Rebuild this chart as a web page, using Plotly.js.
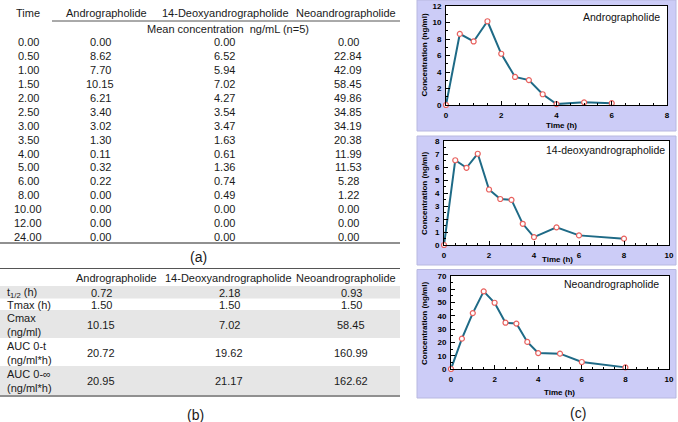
<!DOCTYPE html>
<html><head><meta charset="utf-8">
<script src="https://cdn.plot.ly/plotly-3.0.1.min.js"></script>
<style>html,body{margin:0;padding:0;background:#fff}#chart{width:678px;height:422px}</style>
</head><body><div id="chart"></div>
<script>
// ---- data ----
const times = [0, 0.5, 1, 1.5, 2, 2.5, 3, 3.5, 4, 5, 6, 8, 10, 12, 24];
const andro = [0, 8.62, 7.70, 10.15, 6.21, 3.40, 3.02, 1.30, 0.11, 0.32, 0.22, 0, 0, 0, 0];
const deoxy = [0, 6.52, 5.94, 7.02, 4.27, 3.54, 3.47, 1.63, 0.61, 1.36, 0.74, 0.49, 0, 0, 0];
const neo = [0, 22.84, 42.09, 58.45, 49.86, 34.85, 34.19, 20.38, 11.99, 11.53, 5.28, 1.22, 0, 0, 0];
const tableAHeaders = ['Time', 'Andrographolide', '14-Deoxyandrographolide', 'Neoandrographolide'];
const tableASubheader = 'Mean concentration&nbsp;&nbsp;ng/mL (n=5)';
const tableBHeaders = ['Andrographolide', '14-Deoxyandrographolide', 'Neoandrographolide'];
const pkLabels = ['t<sub>1/2</sub> (h)', 'Tmax (h)', 'Cmax<br>(ng/ml)', 'AUC 0-t<br>(ng/ml*h)', 'AUC 0-∞<br>(ng/ml*h)'];
const pkAndro = [0.72, 1.50, 10.15, 20.72, 20.95];
const pkDeoxy = [2.18, 1.50, 7.02, 19.62, 21.17];
const pkNeo = [0.93, 1.50, 58.45, 160.99, 162.62];
const chartNames = ['Andrographolide', '14-deoxyandrographolide', 'Neoandrographolide'];
const chartLastTime = [6, 8, 8];
const chartXMax = [8, 10, 10];
const chartYMax = [12, 8, 70];
const chartYStep = [2, 1, 10];
const panelLabels = ['(a)', '(b)', '(c)'];
const axisTitleX = 'Time (h)';
const axisTitleY = 'Concentration (ng/ml)';

// ---- layout geometry (pixels) ----
const W = 678, H = 422;
const X = p => p / W, Y = p => 1 - p / H;
const FONT = 'Arial, "Liberation Sans", sans-serif';
const txtColor = '#1a1a1a';

const annotations = [];
const shapes = [];
function ann(text, x, y, o) {
  o = o || {};
  annotations.push(Object.assign({
    text: text, x: X(x), y: Y(y), xref: 'paper', yref: 'paper', showarrow: false,
    xanchor: 'center', yanchor: 'middle',
    font: {family: FONT, size: 11, color: txtColor}
  }, o));
}
function hline(x0, x1, y, color, width) {
  shapes.push({type: 'line', xref: 'paper', yref: 'paper', x0: X(x0), x1: X(x1), y0: Y(y), y1: Y(y),
    line: {color: color, width: width}, layer: 'above'});
}
function rect(x0, y0, x1, y1, fill, lineColor) {
  shapes.push({type: 'rect', xref: 'paper', yref: 'paper', x0: X(x0), x1: X(x1), y0: Y(y1), y1: Y(y0),
    fillcolor: fill, line: {color: lineColor || fill, width: lineColor ? 1 : 0}, layer: 'below'});
}

// ---- table (a) ----
const colAHead = [28, 106, 225, 346];
const colAVal = [28, 100, 224, 348];
tableAHeaders.forEach((h, i) => ann(h, colAHead[i], 13));
hline(52, 400, 21, '#555', 1);
ann(tableASubheader, 228, 28.5);
const seriesA = [times, andro, deoxy, neo];
times.forEach((t, r) => {
  const yy = 42.3 + 13.9 * r;
  seriesA.forEach((s, c) => ann(s[r].toFixed(2), colAVal[c], yy));
});
hline(0, 400, 243, '#909090', 2);
ann(panelLabels[0], 198, 257, {font: {family: FONT, size: 14, color: txtColor}});

// ---- table (b) ----
hline(0, 400, 268.5, '#555', 1);
const colBHead = [116, 228, 346];
const colBVal = [101, 229, 351];
tableBHeaders.forEach((h, i) => ann(h, colBHead[i], 277.5));
const rowB = [[286, 298.5], [298.5, 310], [310, 338], [338, 366], [366, 395]];
const shaded = [true, false, true, false, true];
rowB.forEach((r, i) => { if (shaded[i]) rect(0, r[0], 400, r[1], '#e6e6e6'); });
const pkSeries = [pkAndro, pkDeoxy, pkNeo];
pkLabels.forEach((lab, r) => {
  const yy = (rowB[r][0] + rowB[r][1]) / 2;
  ann(lab, 5, yy + 0.5, {xanchor: 'left', align: 'left'});
  pkSeries.forEach((s, c) => ann(s[r].toFixed(2), colBVal[c], yy + 0.5));
});
hline(0, 400, 396, '#909090', 2);
ann(panelLabels[1], 195, 415, {font: {family: FONT, size: 14, color: txtColor}});

// ---- charts (c) ----
const panels = [[0, 131], [136, 265], [269.5, 398]];
const plotX = [[446, 667], [444, 669], [451, 669]];
const plotY = [[6, 105], [141, 245], [276, 369]];
const yTitleY = [55.5, 194, 324];
const xTitle = [[561, 125], [557, 259], [559, 392]];
const nameRight = [662, 667, 661];
const nameY = [17, 150, 284];
const chartSeries = [andro, deoxy, neo];

panels.forEach(p => rect(417, p[0], 676, p[1], '#ccccf7', '#b8b8e0'));

const traces = [];
const layout = {
  width: W, height: H, margin: {l: 0, r: 0, t: 0, b: 0},
  paper_bgcolor: '#ffffff', plot_bgcolor: 'rgba(0,0,0,0)',
  showlegend: false, annotations: annotations, shapes: shapes
};
const tickFont = {family: FONT, size: 8, weight: 'bold', color: '#000'};
chartSeries.forEach((s, i) => {
  const n = i === 0 ? '' : String(i + 1);
  const xs = [], ys = [];
  times.forEach((t, k) => { if (t <= chartLastTime[i]) { xs.push(t); ys.push(s[k]); } });
  traces.push({
    type: 'scatter', mode: 'lines+markers', x: xs, y: ys, xaxis: 'x' + n, yaxis: 'y' + n,
    cliponaxis: false, hoverinfo: 'skip',
    line: {color: '#1e6a86', width: 2},
    marker: {symbol: 'circle', size: 5, color: '#ffffff', line: {color: '#e8615e', width: 1.2}}
  });
  const common = {
    ticks: 'inside', ticklen: 4, tickwidth: 1, tickcolor: '#000',
    showline: true, linecolor: '#000', linewidth: 1, mirror: true,
    showgrid: false, zeroline: false, tickfont: tickFont, fixedrange: true
  };
  layout['xaxis' + n] = Object.assign({}, common, {
    domain: [X(plotX[i][0]), X(plotX[i][1])], anchor: 'y' + n,
    range: [0, chartXMax[i]], tick0: 0, dtick: 2, ticklabelstandoff: 2,
    minor: {ticks: 'inside', ticklen: 2, dtick: 0.5, tick0: 0, tickcolor: '#000', showgrid: false}
  });
  layout['yaxis' + n] = Object.assign({}, common, {
    domain: [Y(plotY[i][1]), Y(plotY[i][0])], anchor: 'x' + n,
    range: [0, chartYMax[i]], tick0: 0, dtick: chartYStep[i], ticklabelstandoff: 2,
    minor: {ticks: 'inside', ticklen: 2, dtick: chartYStep[i] / 2, tick0: 0, tickcolor: '#000', showgrid: false}
  });
  shapes.push({type: 'rect', xref: 'x' + (n ? n : '') + ' domain', yref: 'y' + (n ? n : '') + ' domain',
    x0: 0, x1: 1, y0: 0, y1: 1, fillcolor: '#ffffff', line: {width: 0}, layer: 'below'});
  ann(axisTitleY, 424, yTitleY[i], {textangle: -90, font: {family: FONT, size: 8, weight: 'bold', color: '#000'}});
  ann(axisTitleX, xTitle[i][0], xTitle[i][1], {font: {family: FONT, size: 8, weight: 'bold', color: '#000'}});
  ann(chartNames[i], nameRight[i], nameY[i], {xanchor: 'right', font: {family: FONT, size: 10.5, color: '#111'}});
});
ann(panelLabels[2], 578, 413, {font: {family: FONT, size: 14, color: txtColor}});

Plotly.newPlot('chart', traces, layout, {displayModeBar: false, staticPlot: true});
</script>
</body></html>
